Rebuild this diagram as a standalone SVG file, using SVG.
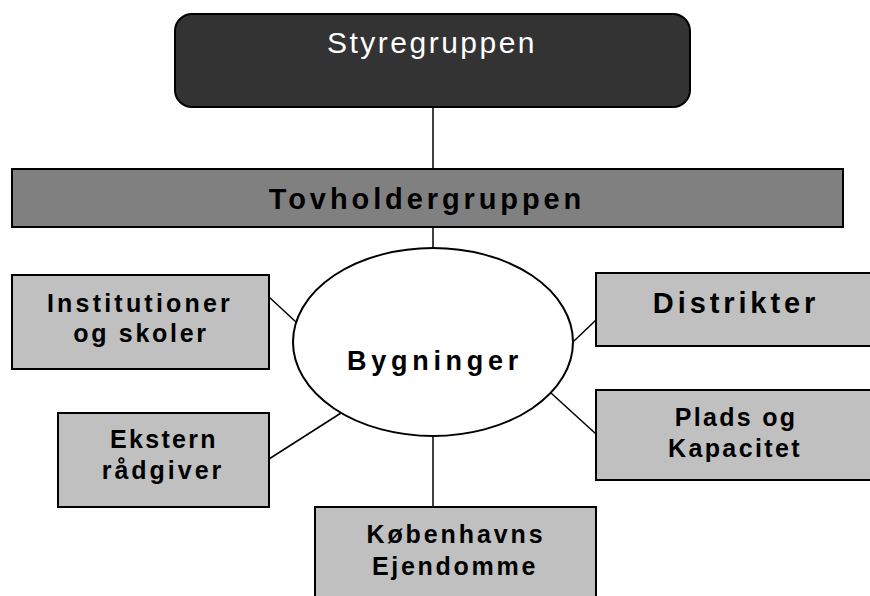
<svg xmlns="http://www.w3.org/2000/svg" width="870" height="596" viewBox="0 0 870 596">
<style>
  .box { fill: #c0c0c0; stroke: #000; stroke-width: 2; }
  .lbl { font-family: "Liberation Sans", Arial, sans-serif; font-weight: bold; font-size: 25px; letter-spacing: 2.7px; fill: #000; text-anchor: middle; }
  .conn line { stroke: #000; stroke-width: 1.5; }
</style>
<rect width="870" height="596" fill="#fff"/>
<g class="conn" id="connectors">
  <line x1="433" y1="107" x2="433" y2="169"/>
  <line x1="433" y1="227" x2="433" y2="248"/>
  <line x1="296" y1="322" x2="269" y2="297"/>
  <line x1="341" y1="413" x2="269" y2="459"/>
  <line x1="433" y1="436" x2="433" y2="507"/>
  <line x1="574" y1="341" x2="596" y2="320"/>
  <line x1="551" y1="393" x2="596" y2="434"/>
</g>
<g id="styregruppen">
  <rect x="175" y="14" width="515" height="93" rx="17" ry="17" fill="#333333" stroke="#000" stroke-width="2"/>
  <text x="432" y="53" font-family="Liberation Sans, Arial, sans-serif" font-size="30" letter-spacing="2.5" fill="#fff" text-anchor="middle">Styregruppen</text>
</g>
<g id="tovholdergruppen">
  <rect x="12" y="169" width="831" height="58" fill="#808080" stroke="#000" stroke-width="2"/>
  <text class="lbl" x="427" y="209" style="font-size:29px;letter-spacing:3.9px">Tovholdergruppen</text>
</g>
<g id="bygninger">
  <ellipse cx="433" cy="342" rx="140" ry="94" fill="#fff" stroke="#000" stroke-width="2"/>
  <text class="lbl" x="435" y="370" style="font-size:27px;letter-spacing:4.7px">Bygninger</text>
</g>
<g id="institutioner">
  <rect class="box" x="12" y="275" width="257" height="94"/>
  <text class="lbl" x="140" y="312" style="letter-spacing:3.2px">Institutioner</text>
  <text class="lbl" x="141" y="342">og skoler</text>
</g>
<g id="ekstern">
  <rect class="box" x="58" y="413" width="211" height="94"/>
  <text class="lbl" x="164" y="448" style="letter-spacing:2.3px">Ekstern</text>
  <text class="lbl" x="163" y="479" style="letter-spacing:3px">rådgiver</text>
</g>
<g id="kobenhavns">
  <rect class="box" x="315" y="507" width="281" height="100"/>
  <text class="lbl" x="456" y="543" style="letter-spacing:2.9px">Københavns</text>
  <text class="lbl" x="455" y="575">Ejendomme</text>
</g>
<g id="distrikter">
  <rect class="box" x="596" y="273" width="290" height="73"/>
  <text class="lbl" x="736" y="313" style="font-size:29px;letter-spacing:3.9px">Distrikter</text>
</g>
<g id="plads">
  <rect class="box" x="596" y="390" width="290" height="90"/>
  <text class="lbl" x="736" y="426" style="letter-spacing:2.3px">Plads og</text>
  <text class="lbl" x="735" y="457" style="letter-spacing:2.4px">Kapacitet</text>
</g>
</svg>
